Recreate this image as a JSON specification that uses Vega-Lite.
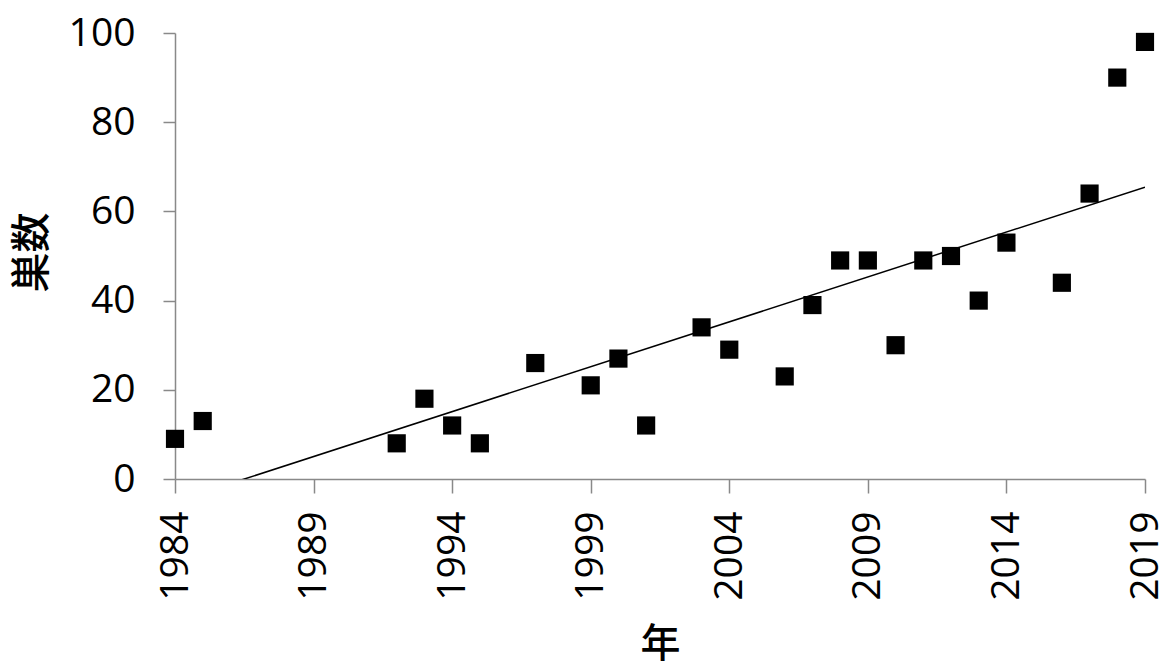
{
  "$schema": "https://vega.github.io/schema/vega-lite/v6.json",
  "autosize": "none",
  "width": 970,
  "height": 446,
  "padding": {"left": 175, "top": 33, "right": 22, "bottom": 185},
  "background": "white",
  "config": {
    "view": {"stroke": null},
    "font": "Open Sans",
    "axis": {
      "grid": false,
      "domainColor": "#898989",
      "domainWidth": 1.5,
      "tickColor": "#898989",
      "tickWidth": 1.5,
      "labelColor": "#000000",
      "titleColor": "#000000",
      "labelFont": "Open Sans",
      "labelFontSize": 39,
      "titleFont": "Noto Sans CJK JP",
      "titleFontSize": 40,
      "titleFontWeight": 500
    }
  },
  "data": {
    "values": [
      {"year": 1984, "nests": 9},
      {"year": 1985, "nests": 13},
      {"year": 1992, "nests": 8},
      {"year": 1993, "nests": 18},
      {"year": 1994, "nests": 12},
      {"year": 1995, "nests": 8},
      {"year": 1997, "nests": 26},
      {"year": 1999, "nests": 21},
      {"year": 2000, "nests": 27},
      {"year": 2001, "nests": 12},
      {"year": 2003, "nests": 34},
      {"year": 2004, "nests": 29},
      {"year": 2006, "nests": 23},
      {"year": 2007, "nests": 39},
      {"year": 2008, "nests": 49},
      {"year": 2009, "nests": 49},
      {"year": 2010, "nests": 30},
      {"year": 2011, "nests": 49},
      {"year": 2012, "nests": 50},
      {"year": 2013, "nests": 40},
      {"year": 2014, "nests": 53},
      {"year": 2016, "nests": 44},
      {"year": 2017, "nests": 64},
      {"year": 2018, "nests": 90},
      {"year": 2019, "nests": 98}
    ]
  },
  "encoding": {
    "x": {
      "field": "year",
      "type": "quantitative",
      "scale": {"domain": [1984, 2019], "nice": false, "zero": false},
      "axis": {
        "values": [1984, 1989, 1994, 1999, 2004, 2009, 2014, 2019],
        "format": "d",
        "labelAngle": -90,
        "labelPadding": 18,
        "tickSize": 14,
        "title": "年",
        "titleY": 165,
        "titleBaseline": "middle"
      }
    },
    "y": {
      "field": "nests",
      "type": "quantitative",
      "scale": {"domain": [0, 100], "nice": false},
      "axis": {
        "values": [0, 20, 40, 60, 80, 100],
        "tickSize": 12,
        "labelPadding": 28,
        "title": "巣数",
        "titleX": -143,
        "titleY": 219,
        "titleBaseline": "middle"
      }
    }
  },
  "layer": [
    {
      "mark": {"type": "line", "color": "#000000", "strokeWidth": 1.5, "clip": true},
      "transform": [
        {"regression": "nests", "on": "year", "method": "linear", "extent": [1984, 2019]}
      ]
    },
    {
      "mark": {"type": "point", "shape": "square", "filled": true, "size": 330, "color": "#000000", "opacity": 1}
    }
  ]
}
